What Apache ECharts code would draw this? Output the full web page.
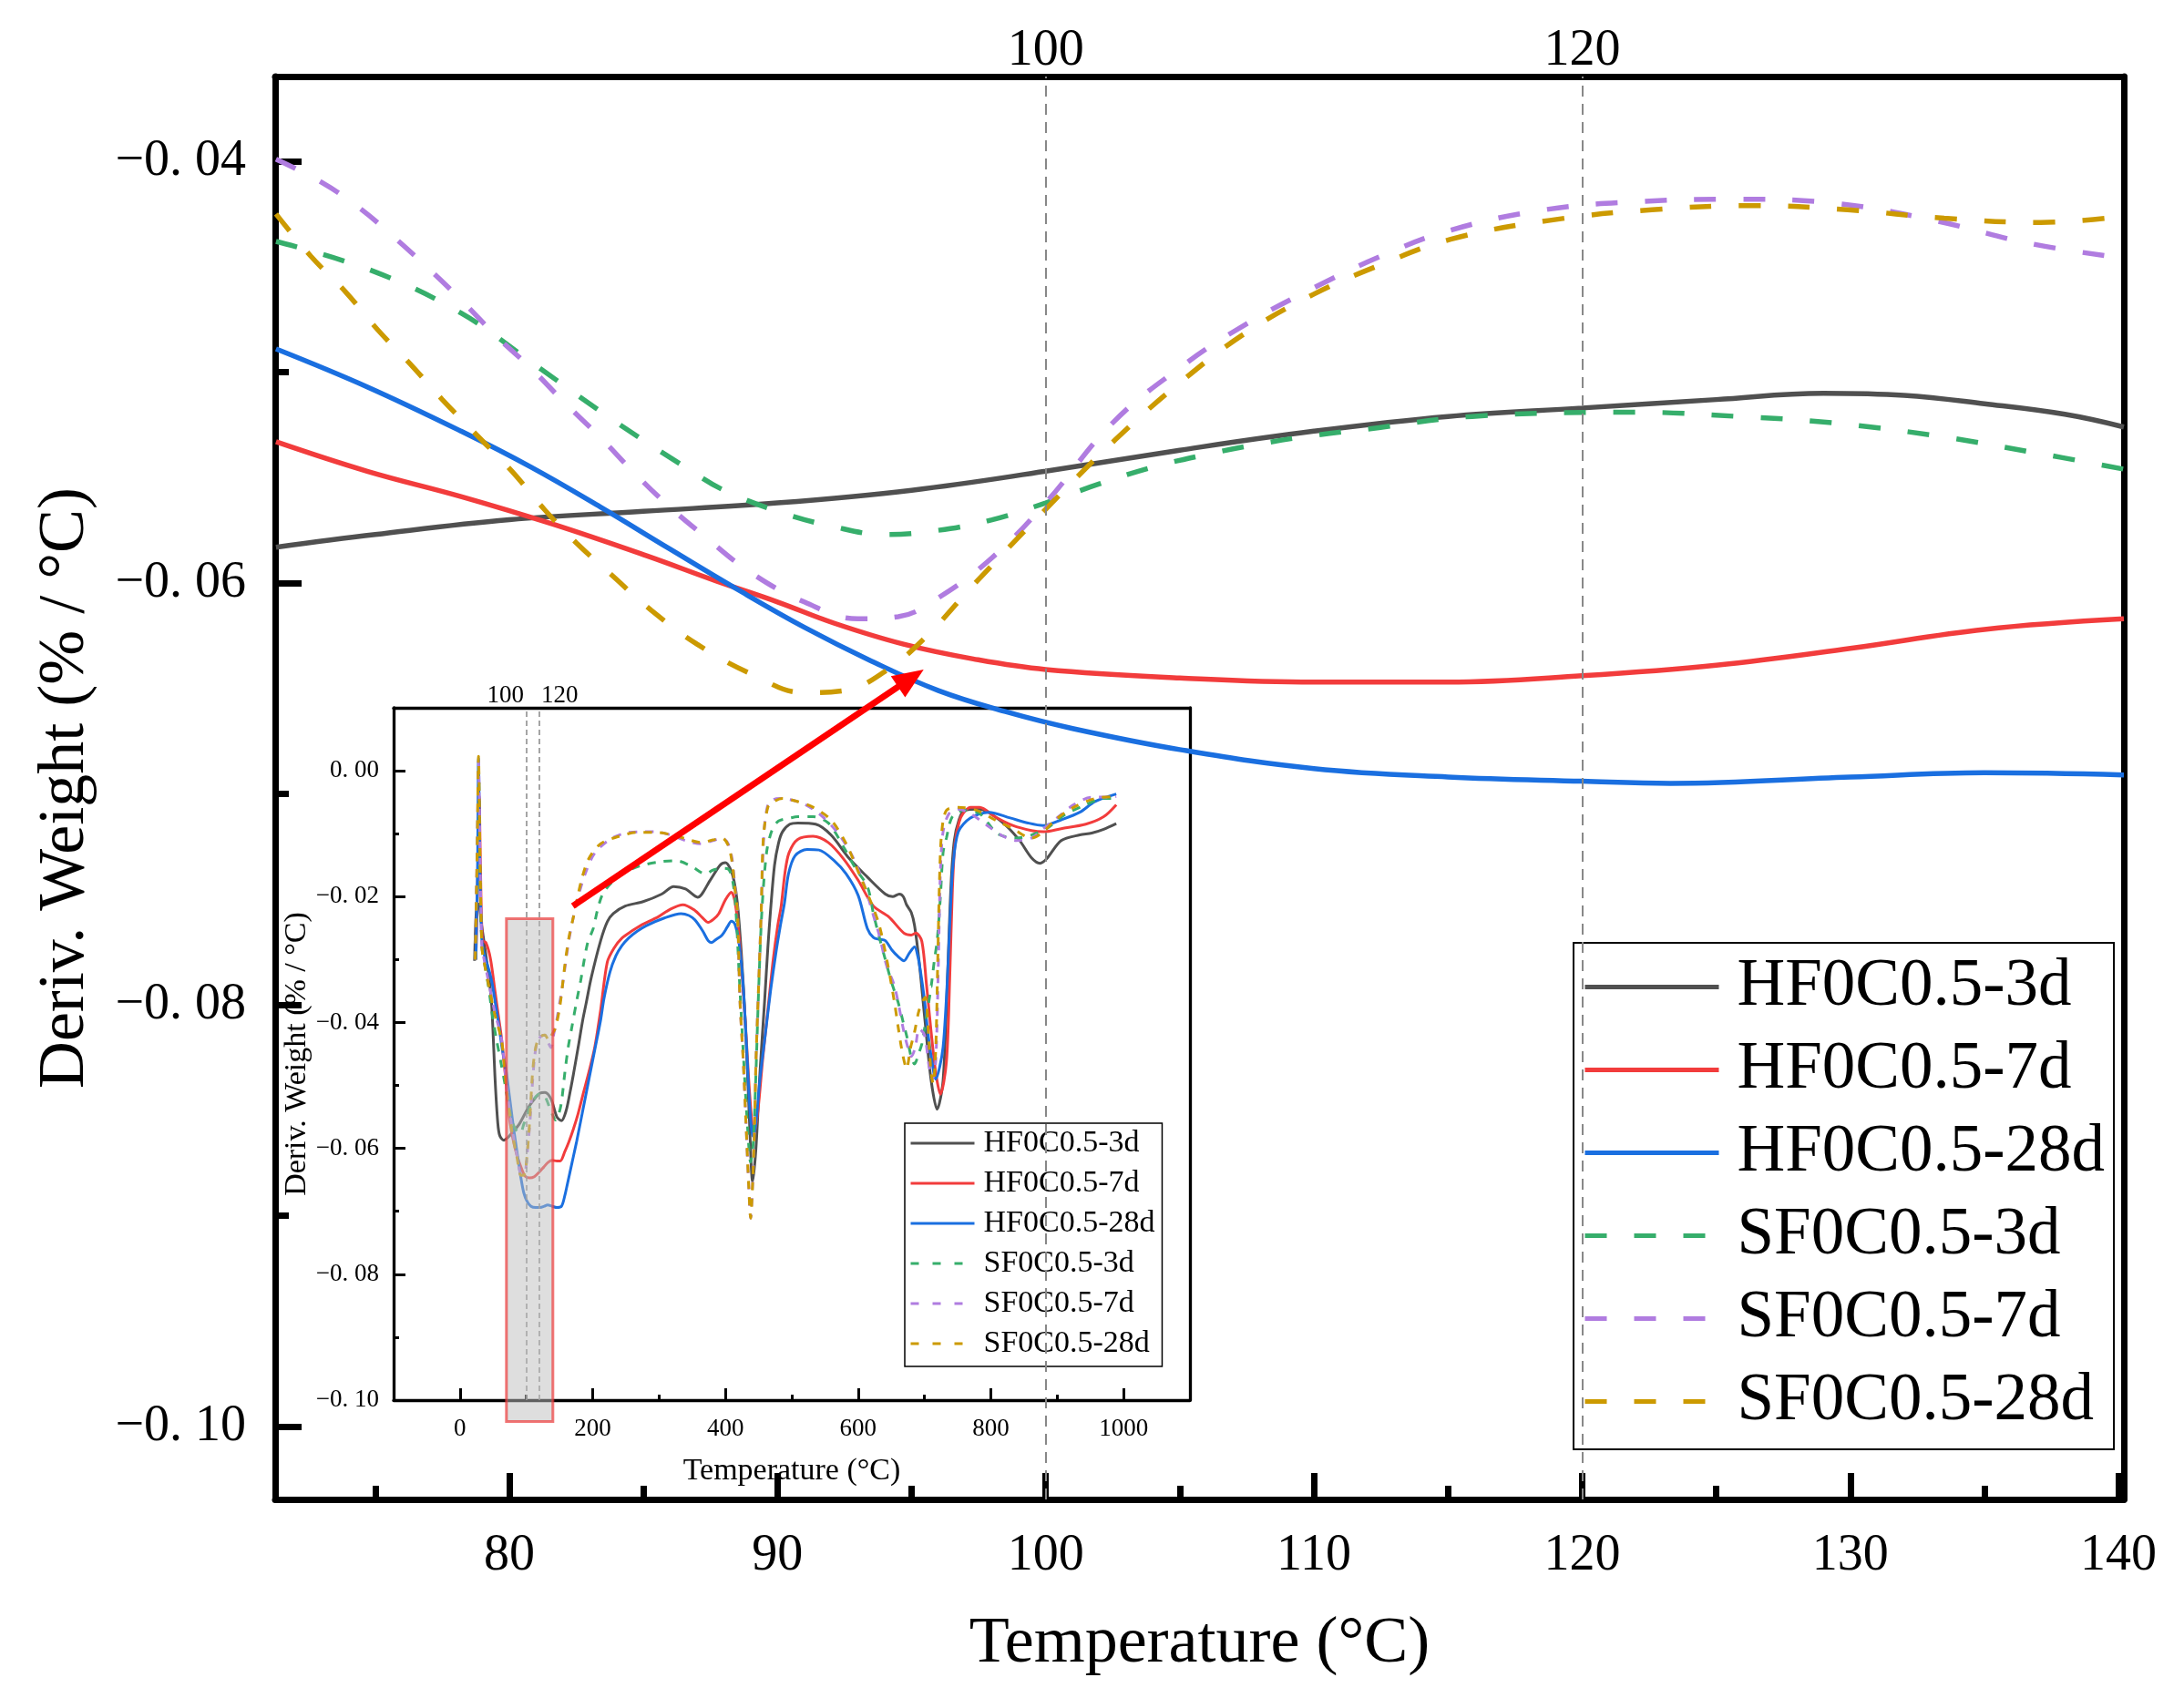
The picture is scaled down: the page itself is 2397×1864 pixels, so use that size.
<!DOCTYPE html>
<html>
<head>
<meta charset="utf-8">
<script src="https://cdn.jsdelivr.net/npm/echarts@6.0.0/dist/echarts.min.js"></script>
<style>
  html, body { margin: 0; padding: 0; background: #fff; }
  #main { width: 2397px; height: 1864px; }
</style>
</head>
<body>
<div id="main"></div>
<script>
// series names / colours
var names = ['HF0C0.5-3d', 'HF0C0.5-7d', 'HF0C0.5-28d', 'SF0C0.5-3d', 'SF0C0.5-7d', 'SF0C0.5-28d'];
var colors = ['#505050', '#F23C3C', '#1A6FE0', '#36AE6B', '#B07CE0', '#CC9A00'];

// tick values
var mainXTicks = [80, 90, 100, 110, 120, 130, 140];
var mainXMinor = [75, 85, 95, 105, 115, 125, 135];
var mainYTicks = [-0.10, -0.08, -0.06, -0.04];
var mainYMinor = [-0.09, -0.07, -0.05];
var markTemps = [100, 120];
var insetXTicks = [0, 200, 400, 600, 800, 1000];
var insetXMinor = [100, 300, 500, 700, 900];
var insetYTicks = [-0.10, -0.08, -0.06, -0.04, -0.02, 0.00];
var insetYMinor = [-0.09, -0.07, -0.05, -0.03, -0.01];

// zoomed view (main plot), [temperature, deriv. weight]
var mainHF3d = [[71.3,-0.0583],[75,-0.0577],[80,-0.0570],[85,-0.0566],[90,-0.0562],[95,-0.0556],[100,-0.0547],[105,-0.0537],[110,-0.0528],[115,-0.0521],[120,-0.0517],[125,-0.0513],[129,-0.0510],[132,-0.0511],[135,-0.0515],[138,-0.0520],[140.2,-0.0526]];
var mainHF7d = [[71.3,-0.0533],[74.7,-0.0547],[78.2,-0.0559],[81.6,-0.0572],[85.1,-0.0587],[87.7,-0.0599],[90,-0.0609],[92.1,-0.0619],[94.7,-0.0629],[97.3,-0.0636],[100,-0.0641],[105,-0.0645],[110,-0.0647],[115,-0.0647],[120,-0.0644],[125,-0.0639],[130,-0.0631],[135,-0.0622],[140.2,-0.0617]];
var mainHF28d = [[71.3,-0.0489],[74.7,-0.0507],[78.2,-0.0528],[80.8,-0.0545],[83.4,-0.0564],[86,-0.0584],[88.5,-0.0603],[91,-0.0621],[93.5,-0.0637],[96,-0.0651],[98.5,-0.0661],[101,-0.0669],[105,-0.0679],[110,-0.0688],[115,-0.0692],[120,-0.0694],[123.3,-0.0695],[130,-0.0692],[135,-0.0690],[140.2,-0.0691]];
var mainSF3d = [[71.3,-0.0438],[74.9,-0.0452],[78.2,-0.0472],[80.9,-0.0496],[83.9,-0.0523],[86.8,-0.0547],[88,-0.0556],[90,-0.0566],[92,-0.0573],[94,-0.0577],[96,-0.0575],[98,-0.0570],[100,-0.0562],[102,-0.0553],[104,-0.0545],[106,-0.0539],[108,-0.0534],[110,-0.0530],[112,-0.0527],[115.9,-0.0521],[122,-0.0519],[125.8,-0.0521],[129.3,-0.0524],[133.1,-0.0530],[136.8,-0.0538],[140.2,-0.0546]];
var mainSF7d = [[71.3,-0.0399],[73,-0.0410],[74.4,-0.0422],[75.7,-0.0436],[77,-0.0451],[78.3,-0.0467],[79.6,-0.0484],[80.8,-0.0498],[82.1,-0.0515],[83.4,-0.0531],[84.6,-0.0547],[85.9,-0.0563],[87.2,-0.0577],[89,-0.0595],[91,-0.0609],[93,-0.0617],[94.5,-0.0616],[96,-0.0607],[98,-0.0588],[100,-0.0562],[102.5,-0.0524],[105.1,-0.0497],[107.5,-0.0477],[110,-0.0460],[112.5,-0.0445],[115,-0.0433],[118.6,-0.0423],[122.3,-0.0419],[125.7,-0.0418],[129.5,-0.0420],[133.1,-0.0428],[136.7,-0.0439],[140.2,-0.0446]];
var mainSF28d = [[71.3,-0.0425],[72.6,-0.0445],[73.9,-0.0462],[75.1,-0.0480],[76.3,-0.0496],[77.5,-0.0513],[78.8,-0.0530],[80.1,-0.0547],[81.3,-0.0565],[82.5,-0.0581],[83.8,-0.0596],[85.3,-0.0613],[87,-0.0629],[89,-0.0643],[91,-0.0652],[92.5,-0.0651],[94,-0.0642],[95.5,-0.0626],[97.3,-0.0601],[100,-0.0565],[102.6,-0.0532],[105.1,-0.0504],[107.5,-0.0481],[110,-0.0463],[112.5,-0.0449],[115.1,-0.0437],[118.8,-0.0428],[122.6,-0.0423],[126.4,-0.0421],[129.9,-0.0423],[133.5,-0.0427],[137.1,-0.0429],[140.2,-0.0426]];

// full range (inset)
var insetHF3d = [[22,-0.0302],[25,-0.0217],[28,-0.0212],[32,-0.0241],[36,-0.0270],[40,-0.0300],[44,-0.0330],[48,-0.0376],[53,-0.0492],[57,-0.0560],[60,-0.0580],[66,-0.0587],[72,-0.0583],[78,-0.0576],[89,-0.0562],[103,-0.0535],[114,-0.0519],[121,-0.0512],[128,-0.0511],[137,-0.0521],[146,-0.0550],[153,-0.0556],[160,-0.0540],[166,-0.0510],[171,-0.0482],[178,-0.0440],[185,-0.0396],[190,-0.0370],[198,-0.0328],[212,-0.0270],[222,-0.0240],[231,-0.0227],[249,-0.0215],[276,-0.0208],[304,-0.0196],[322,-0.0184],[340,-0.0188],[358,-0.0201],[377,-0.0174],[392,-0.0150],[400,-0.0146],[407,-0.0155],[413,-0.0175],[418,-0.0210],[424,-0.0290],[430,-0.0400],[436,-0.0550],[441,-0.0653],[446,-0.0600],[452,-0.0480],[459,-0.0367],[464,-0.0280],[468,-0.0222],[474,-0.0150],[480,-0.0115],[486,-0.0097],[497,-0.0085],[509,-0.0083],[536,-0.0085],[559,-0.0102],[587,-0.0140],[614,-0.0169],[641,-0.0196],[652,-0.0200],[662,-0.0196],[668,-0.0200],[673,-0.0213],[680,-0.0225],[685,-0.0246],[692,-0.0304],[701,-0.0400],[710,-0.0492],[719,-0.0538],[728,-0.0492],[735,-0.0319],[740,-0.0180],[745,-0.0110],[752,-0.0078],[760,-0.0063],[783,-0.0061],[815,-0.0080],[842,-0.0109],[861,-0.0138],[874,-0.0147],[884,-0.0140],[906,-0.0111],[934,-0.0102],[952,-0.0099],[970,-0.0093],[989,-0.0084]];
var insetHF7d = [[24,-0.0300],[27,-0.0160],[29,-0.0040],[31,-0.0160],[34,-0.0270],[39,-0.0273],[46,-0.0299],[53,-0.0352],[58,-0.0390],[62,-0.0420],[68,-0.0480],[73,-0.0540],[78,-0.0575],[85,-0.0608],[92,-0.0630],[98,-0.0644],[105,-0.0647],[112,-0.0645],[120,-0.0637],[126,-0.0630],[133,-0.0622],[139,-0.0619],[146,-0.0620],[151,-0.0620],[158,-0.0605],[164,-0.0590],[171,-0.0569],[178,-0.0545],[185,-0.0516],[194,-0.0480],[203,-0.0440],[212,-0.0380],[222,-0.0304],[232,-0.0282],[244,-0.0266],[260,-0.0254],[272,-0.0246],[299,-0.0232],[317,-0.0220],[336,-0.0213],[354,-0.0222],[365,-0.0233],[374,-0.0241],[382,-0.0236],[390,-0.0227],[400,-0.0205],[409,-0.0193],[415,-0.0212],[422,-0.0280],[430,-0.0400],[437,-0.0520],[443,-0.0579],[449,-0.0540],[456,-0.0460],[464,-0.0380],[472,-0.0300],[479,-0.0245],[484,-0.0215],[490,-0.0160],[496,-0.0130],[509,-0.0109],[532,-0.0104],[555,-0.0114],[578,-0.0140],[600,-0.0174],[623,-0.0215],[646,-0.0232],[669,-0.0258],[680,-0.0261],[687,-0.0258],[696,-0.0271],[703,-0.0340],[710,-0.0415],[717,-0.0480],[724,-0.0514],[733,-0.0463],[738,-0.0330],[742,-0.0190],[746,-0.0115],[752,-0.0082],[758,-0.0068],[769,-0.0058],[783,-0.0058],[806,-0.0073],[833,-0.0087],[861,-0.0095],[879,-0.0097],[906,-0.0092],[943,-0.0085],[970,-0.0073],[989,-0.0054]];
var insetHF28d = [[24,-0.0300],[26.5,-0.0150],[28,0.0020],[30,-0.0150],[33,-0.0270],[37,-0.0294],[43,-0.0314],[48,-0.0335],[53,-0.0367],[58,-0.0400],[64,-0.0444],[70,-0.0480],[75,-0.0521],[81,-0.0570],[87,-0.0613],[92,-0.0648],[96,-0.0670],[101,-0.0684],[107,-0.0692],[114,-0.0694],[121,-0.0694],[127,-0.0692],[132,-0.0690],[139,-0.0692],[146,-0.0694],[153,-0.0692],[158,-0.0675],[162,-0.0656],[169,-0.0622],[176,-0.0588],[185,-0.0540],[194,-0.0492],[203,-0.0444],[212,-0.0396],[217,-0.0362],[226,-0.0320],[235,-0.0294],[244,-0.0278],[254,-0.0266],[267,-0.0255],[281,-0.0246],[308,-0.0234],[333,-0.0227],[345,-0.0230],[354,-0.0237],[366,-0.0255],[374,-0.0270],[379,-0.0273],[386,-0.0268],[395,-0.0261],[403,-0.0248],[409,-0.0239],[414,-0.0243],[420,-0.0270],[426,-0.0330],[432,-0.0440],[437,-0.0540],[441.5,-0.0581],[446,-0.0560],[452,-0.0490],[460,-0.0420],[468,-0.0350],[476,-0.0290],[483,-0.0245],[489,-0.0210],[495,-0.0164],[505,-0.0135],[523,-0.0125],[541,-0.0126],[564,-0.0143],[582,-0.0164],[600,-0.0198],[614,-0.0251],[623,-0.0265],[632,-0.0268],[641,-0.0270],[651,-0.0285],[660,-0.0295],[669,-0.0302],[677,-0.0290],[685,-0.0280],[690,-0.0295],[694,-0.0319],[700,-0.0365],[705,-0.0415],[711,-0.0460],[717,-0.0490],[723,-0.0470],[728,-0.0439],[732,-0.0380],[735,-0.0319],[739,-0.0222],[743,-0.0150],[751,-0.0097],[769,-0.0075],[797,-0.0066],[829,-0.0075],[856,-0.0083],[879,-0.0087],[906,-0.0078],[934,-0.0066],[957,-0.0049],[989,-0.0037]];
var insetSF3d = [[23,-0.0300],[26,-0.0150],[28,0.0010],[30,-0.0150],[33,-0.0280],[36,-0.0300],[43,-0.0343],[49,-0.0390],[55,-0.0427],[62,-0.0465],[68,-0.0499],[73,-0.0530],[78,-0.0555],[84,-0.0570],[91,-0.0576],[96,-0.0562],[102,-0.0545],[107,-0.0530],[112,-0.0521],[119,-0.0514],[126,-0.0514],[131,-0.0524],[135,-0.0535],[140,-0.0548],[144,-0.0555],[149,-0.0545],[153,-0.0526],[158,-0.0480],[163,-0.0440],[169,-0.0405],[176,-0.0365],[182,-0.0333],[192,-0.0275],[201,-0.0250],[207,-0.0222],[215,-0.0196],[230,-0.0176],[249,-0.0161],[272,-0.0151],[299,-0.0145],[326,-0.0143],[349,-0.0152],[370,-0.0164],[381,-0.0158],[395,-0.0155],[404,-0.0156],[410,-0.0170],[415,-0.0210],[421,-0.0330],[427,-0.0450],[433,-0.0560],[438,-0.0622],[442,-0.0590],[446,-0.0480],[450,-0.0350],[455,-0.0222],[462,-0.0130],[470,-0.0095],[480,-0.0080],[498,-0.0075],[509,-0.0073],[532,-0.0073],[555,-0.0083],[578,-0.0121],[596,-0.0155],[614,-0.0184],[623,-0.0227],[632,-0.0265],[642,-0.0304],[650,-0.0335],[660,-0.0367],[668,-0.0400],[674,-0.0425],[680,-0.0455],[685,-0.0466],[691,-0.0450],[696,-0.0434],[703,-0.0390],[710,-0.0343],[715,-0.0300],[719,-0.0271],[724,-0.0200],[728,-0.0130],[733,-0.0107],[742,-0.0073],[760,-0.0063],[783,-0.0068],[810,-0.0100],[838,-0.0107],[861,-0.0102],[884,-0.0092],[911,-0.0070],[943,-0.0054],[970,-0.0044],[989,-0.0044]];
var insetSF7d = [[23,-0.0300],[26,-0.0120],[28,0.0015],[30,-0.0120],[33,-0.0280],[36,-0.0298],[44,-0.0340],[52,-0.0381],[63,-0.0429],[70,-0.0500],[78,-0.0565],[86,-0.0612],[92,-0.0640],[97,-0.0640],[102,-0.0600],[106,-0.0550],[109,-0.0500],[112,-0.0460],[116,-0.0432],[122,-0.0422],[128,-0.0420],[133,-0.0432],[137,-0.0440],[141,-0.0420],[146,-0.0395],[150,-0.0370],[153,-0.0352],[158,-0.0314],[164,-0.0270],[171,-0.0232],[180,-0.0193],[190,-0.0160],[203,-0.0131],[226,-0.0109],[249,-0.0099],[272,-0.0097],[295,-0.0097],[317,-0.0102],[340,-0.0111],[363,-0.0116],[381,-0.0111],[395,-0.0107],[404,-0.0116],[410,-0.0140],[414,-0.0180],[418,-0.0222],[422,-0.0367],[427,-0.0463],[431,-0.0560],[435,-0.0656],[438,-0.0711],[441,-0.0656],[444,-0.0560],[446,-0.0463],[450,-0.0343],[454,-0.0222],[458,-0.0100],[464,-0.0054],[472,-0.0046],[482,-0.0044],[514,-0.0051],[541,-0.0068],[568,-0.0097],[591,-0.0135],[610,-0.0184],[623,-0.0230],[632,-0.0262],[643,-0.0310],[655,-0.0343],[669,-0.0415],[675,-0.0440],[680,-0.0454],[686,-0.0440],[692,-0.0410],[700,-0.0420],[707,-0.0470],[712,-0.0490],[717,-0.0460],[721,-0.0300],[724,-0.0160],[728,-0.0097],[737,-0.0068],[751,-0.0061],[769,-0.0068],[792,-0.0085],[815,-0.0102],[838,-0.0111],[861,-0.0107],[879,-0.0092],[902,-0.0073],[925,-0.0054],[952,-0.0042],[979,-0.0042],[989,-0.0041]];
var insetSF28d = [[23,-0.0300],[26,-0.0120],[28,0.0023],[30,-0.0120],[33,-0.0280],[36,-0.0302],[44,-0.0345],[52,-0.0385],[63,-0.0431],[70,-0.0505],[78,-0.0570],[86,-0.0615],[92,-0.0643],[97,-0.0642],[102,-0.0600],[106,-0.0540],[109,-0.0485],[112,-0.0453],[116,-0.0432],[122,-0.0422],[128,-0.0420],[134,-0.0429],[138,-0.0420],[144,-0.0408],[151,-0.0371],[158,-0.0309],[164,-0.0266],[171,-0.0232],[183,-0.0174],[194,-0.0140],[212,-0.0116],[240,-0.0104],[267,-0.0098],[295,-0.0098],[320,-0.0102],[340,-0.0108],[363,-0.0114],[381,-0.0110],[395,-0.0107],[404,-0.0118],[410,-0.0145],[414,-0.0185],[418,-0.0222],[422,-0.0367],[427,-0.0463],[431,-0.0560],[435,-0.0656],[438,-0.0711],[441,-0.0656],[444,-0.0560],[446,-0.0463],[450,-0.0343],[454,-0.0222],[457,-0.0110],[464,-0.0058],[473,-0.0049],[486,-0.0044],[509,-0.0049],[532,-0.0058],[559,-0.0078],[582,-0.0116],[600,-0.0160],[619,-0.0208],[632,-0.0246],[645,-0.0310],[655,-0.0370],[660,-0.0405],[667,-0.0450],[673,-0.0473],[679,-0.0440],[685,-0.0415],[692,-0.0380],[701,-0.0360],[706,-0.0420],[710,-0.0480],[713,-0.0497],[717,-0.0440],[720,-0.0300],[723,-0.0160],[726,-0.0097],[733,-0.0063],[751,-0.0058],[779,-0.0063],[806,-0.0078],[833,-0.0092],[861,-0.0107],[879,-0.0097],[897,-0.0078],[925,-0.0058],[957,-0.0044],[989,-0.0041]];

// annotation: zoom window in the inset [x0, x1, yTop, yBottom] and arrow ends
var zoomBox = [70, 140, -0.0235, -0.1034];
var arrowFrom = [170, -0.0215];   // inset coords
var arrowTo = [95.45, -0.0641];   // main coords

var mainData = [mainHF3d, mainHF7d, mainHF28d, mainSF3d, mainSF7d, mainSF28d];
var insetData = [insetHF3d, insetHF7d, insetHF28d, insetSF3d, insetSF7d, insetSF28d];

var FONT = 'Liberation Serif';
var black = '#000';

function fmtY(v) {
    var s = Math.abs(v).toFixed(2).replace('.', '. ');
    return (v < -1e-9 ? '\u2212' : '') + s;
}

var chart = echarts.init(document.getElementById('main'));

var series = [];
mainData.forEach(function (d, i) {
    var s = {
        type: 'line',
        name: names[i],
        xAxisIndex: 0,
        yAxisIndex: 0,
        data: d,
        symbol: 'none',
        smooth: 0.4,
        z: 3,
        lineStyle: { color: colors[i], width: 5.5, type: i < 3 ? 'solid' : [24, 30] },
        itemStyle: { color: colors[i] }
    };
    if (i === 0) {
        s.markLine = {
            symbol: 'none', silent: true, animation: false,
            label: { show: false },
            lineStyle: { color: '#888', width: 2, type: [12, 8] },
            data: markTemps.map(function (t) { return { xAxis: t }; })
        };
    }
    series.push(s);
});
insetData.forEach(function (d, i) {
    var s = {
        type: 'line',
        name: names[i],
        xAxisIndex: 3,
        yAxisIndex: 3,
        data: d,
        symbol: 'none',
        smooth: 0.3,
        z: 3,
        lineStyle: { color: colors[i], width: 3, type: i < 3 ? 'solid' : [9, 9] },
        itemStyle: { color: colors[i] }
    };
    if (i === 0) {
        s.markLine = {
            symbol: 'none', silent: true, animation: false,
            label: { show: false },
            lineStyle: { color: '#888', width: 1.5, type: [6, 4] },
            data: markTemps.map(function (t) { return { xAxis: t }; })
        };
    }
    series.push(s);
});

// legend symbol hidden, only the line sample shows
var noSymbol = { color: 'rgba(0,0,0,0)', borderColor: 'rgba(0,0,0,0)', borderWidth: 0 };

chart.setOption({
    backgroundColor: '#fff',
    animation: false,
    grid: [
        { left: 302, right: 66, top: 84, bottom: 218 },
        { left: 432, right: 1091, top: 777, bottom: 327 }
    ],
    legend: [
        {
            orient: 'vertical', left: 1727, top: 1035,
            padding: [12, 10, 16, 10],
            borderColor: black, borderWidth: 2,
            itemWidth: 147, itemHeight: 20, itemGap: 18,
            selectedMode: false,
            itemStyle: noSymbol,
            lineStyle: { width: 5 },
            textStyle: { fontFamily: FONT, fontSize: 73, lineHeight: 72, color: black, padding: [0, 0, 0, 15] },
            data: names
        },
        {
            orient: 'vertical', left: 993, top: 1233,
            padding: [5, 8, 8, 5],
            borderColor: black, borderWidth: 1.5,
            itemWidth: 70, itemHeight: 12, itemGap: 10,
            selectedMode: false,
            itemStyle: noSymbol,
            textStyle: { fontFamily: FONT, fontSize: 34, lineHeight: 34, color: black, padding: [0, 0, 0, 5] },
            data: names.map(function (n, i) {
                return { name: n, itemStyle: noSymbol, lineStyle: { width: 3, type: i < 3 ? 'solid' : [9, 15] } };
            })
        }
    ],
    xAxis: [
        {   // main bottom
            type: 'value', gridIndex: 0, position: 'bottom', min: 71.27, max: 140.2,
            name: 'Temperature (\u00B0C)', nameLocation: 'middle', nameGap: 123,
            nameTextStyle: { fontFamily: FONT, fontSize: 72, color: black },
            axisLine: { show: true, onZero: false, lineStyle: { color: black, width: 7 } },
            axisTick: { show: true, inside: true, length: 29, lineStyle: { width: 7, color: black }, customValues: mainXTicks },
            axisLabel: { fontFamily: FONT, fontSize: 56, color: black, margin: 34, customValues: mainXTicks },
            splitLine: { show: false }
        },
        {   // main bottom minor ticks
            type: 'value', gridIndex: 0, position: 'bottom', min: 71.27, max: 140.2,
            axisLine: { show: false, onZero: false },
            axisTick: { show: true, inside: true, length: 15, lineStyle: { width: 7, color: black }, customValues: mainXMinor },
            axisLabel: { show: false },
            splitLine: { show: false }
        },
        {   // main top
            type: 'value', gridIndex: 0, position: 'top', min: 71.27, max: 140.2,
            axisLine: { show: true, onZero: false, lineStyle: { color: black, width: 7 } },
            axisTick: { show: false },
            axisLabel: { fontFamily: FONT, fontSize: 56, color: black, margin: 0, customValues: markTemps },
            splitLine: { show: false }
        },
        {   // inset bottom
            type: 'value', gridIndex: 1, position: 'bottom', min: -100, max: 1100,
            name: 'Temperature (\u00B0C)', nameLocation: 'middle', nameGap: 61,
            nameTextStyle: { fontFamily: FONT, fontSize: 34, color: black },
            axisLine: { show: true, onZero: false, lineStyle: { color: black, width: 3.3 } },
            axisTick: { show: true, inside: true, length: 13, lineStyle: { width: 3, color: black }, customValues: insetXTicks },
            axisLabel: { fontFamily: FONT, fontSize: 27, color: black, margin: 18, customValues: insetXTicks,
                formatter: function (v) { return String(v); } },
            splitLine: { show: false }
        },
        {   // inset bottom minor
            type: 'value', gridIndex: 1, position: 'bottom', min: -100, max: 1100,
            axisLine: { show: false, onZero: false },
            axisTick: { show: true, inside: true, length: 6, lineStyle: { width: 3, color: black }, customValues: insetXMinor },
            axisLabel: { show: false },
            splitLine: { show: false }
        },
        {   // inset top
            type: 'value', gridIndex: 1, position: 'top', min: -100, max: 1100,
            axisLine: { show: true, onZero: false, lineStyle: { color: black, width: 3.3 } },
            axisTick: { show: false },
            axisLabel: {
                fontFamily: FONT, fontSize: 27, color: black, margin: 0, customValues: markTemps,
                formatter: function (v) { return v === 100 ? '{l|100}' : '{r|120}'; },
                rich: {
                    l: { fontFamily: FONT, fontSize: 27, padding: [0, 46, 0, 0] },
                    r: { fontFamily: FONT, fontSize: 27, padding: [0, 0, 0, 44] }
                }
            },
            splitLine: { show: false }
        }
    ],
    yAxis: [
        {   // main left
            type: 'value', gridIndex: 0, position: 'left', min: -0.10346, max: -0.03598,
            name: 'Deriv. Weight (% / \u00B0C)', nameLocation: 'middle', nameGap: 194,
            nameTextStyle: { fontFamily: FONT, fontSize: 72, color: black },
            axisLine: { show: true, onZero: false, lineStyle: { color: black, width: 7 } },
            axisTick: { show: true, inside: true, length: 29, lineStyle: { width: 7, color: black }, customValues: mainYTicks },
            axisLabel: { fontFamily: FONT, fontSize: 56, color: black, margin: 32, customValues: mainYTicks, formatter: fmtY },
            splitLine: { show: false }
        },
        {   // main left minor
            type: 'value', gridIndex: 0, position: 'left', min: -0.10346, max: -0.03598,
            axisLine: { show: false, onZero: false },
            axisTick: { show: true, inside: true, length: 15, lineStyle: { width: 7, color: black }, customValues: mainYMinor },
            axisLabel: { show: false },
            splitLine: { show: false }
        },
        {   // main right
            type: 'value', gridIndex: 0, position: 'right', min: -0.10346, max: -0.03598,
            axisLine: { show: true, onZero: false, lineStyle: { color: black, width: 7 } },
            axisTick: { show: false }, axisLabel: { show: false }, splitLine: { show: false }
        },
        {   // inset left
            type: 'value', gridIndex: 1, position: 'left', min: -0.10, max: 0.01,
            name: 'Deriv. Weight (% / \u00B0C)', nameLocation: 'middle', nameGap: 88,
            nameTextStyle: { fontFamily: FONT, fontSize: 34, color: black },
            axisLine: { show: true, onZero: false, lineStyle: { color: black, width: 3.3 } },
            axisTick: { show: true, inside: true, length: 13, lineStyle: { width: 3, color: black }, customValues: insetYTicks },
            axisLabel: { fontFamily: FONT, fontSize: 27, color: black, margin: 16, customValues: insetYTicks, formatter: fmtY },
            splitLine: { show: false }
        },
        {   // inset left minor
            type: 'value', gridIndex: 1, position: 'left', min: -0.10, max: 0.01,
            axisLine: { show: false, onZero: false },
            axisTick: { show: true, inside: true, length: 6, lineStyle: { width: 3, color: black }, customValues: insetYMinor },
            axisLabel: { show: false },
            splitLine: { show: false }
        },
        {   // inset right
            type: 'value', gridIndex: 1, position: 'right', min: -0.10, max: 0.01,
            axisLine: { show: true, onZero: false, lineStyle: { color: black, width: 3.3 } },
            axisTick: { show: false }, axisLabel: { show: false }, splitLine: { show: false }
        }
    ],
    series: series
});

// zoom window + arrow, placed through the axes of each plot
var insetIdx = 6;
var r1 = chart.convertToPixel({ seriesIndex: insetIdx }, [zoomBox[0], zoomBox[2]]);
var r2 = chart.convertToPixel({ seriesIndex: insetIdx }, [zoomBox[1], zoomBox[3]]);
var a = chart.convertToPixel({ seriesIndex: insetIdx }, arrowFrom);
var b = chart.convertToPixel({ seriesIndex: 0 }, arrowTo);
var ang = Math.atan2(b[1] - a[1], b[0] - a[0]);
var headLen = 34, headHalf = 14;
var base = [b[0] - headLen * Math.cos(ang), b[1] - headLen * Math.sin(ang)];
var px = -Math.sin(ang), py = Math.cos(ang);

chart.setOption({
    graphic: [
        {
            type: 'rect', z: 50, silent: true,
            shape: { x: r1[0], y: r1[1], width: r2[0] - r1[0], height: r2[1] - r1[1] },
            style: { fill: 'rgba(190,190,190,0.5)', stroke: 'rgba(236,60,60,0.7)', lineWidth: 3 }
        },
        {
            type: 'line', z: 60, silent: true,
            shape: { x1: a[0], y1: a[1], x2: base[0] + 2 * Math.cos(ang), y2: base[1] + 2 * Math.sin(ang) },
            style: { stroke: '#ff0000', lineWidth: 7 }
        },
        {
            type: 'polygon', z: 60, silent: true,
            shape: { points: [b, [base[0] + px * headHalf, base[1] + py * headHalf], [base[0] - px * headHalf, base[1] - py * headHalf]] },
            style: { fill: '#ff0000' }
        }
    ]
});
</script>
</body>
</html>
